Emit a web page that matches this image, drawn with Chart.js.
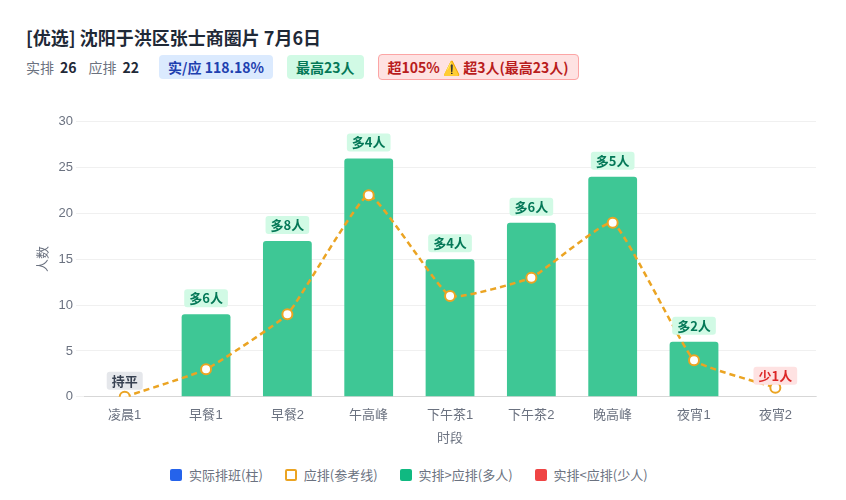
<!DOCTYPE html>
<html lang="zh-CN">
<head>
<meta charset="UTF-8" />
<title>沈阳于洪区张士商圈片</title>
<script src="https://cdn.jsdelivr.net/npm/chart.js"></script>
<style>
  body { margin: 0; width: 846px; height: 500px; background: #fff; font-family: "Noto Sans CJK SC", "Noto Sans", sans-serif; color: #1f2937; }
  .title { position: absolute; left: 26px; top: 24px; font-size: 18px; font-weight: bold; }
  .sub { position: absolute; left: 26px; top: 54px; font-size: 14px; display: flex; align-items: center; gap: 6px; color: #6b7280; }
  .sub b { color: #1f2937; margin-right: 6px; }
  .tag { padding: 2px 9px; border-radius: 4px; font-weight: bold; margin-left: 8px; }
  .blue { background: #dbeafe; color: #1e40af; }
  .green { background: #d1fae5; color: #047857; }
  .red { background: #fee2e2; color: #b91c1c; border: 1px solid #fca5a5; }
  .wrap { position: absolute; left: 14px; top: 111px; width: 816px; height: 339px; }
  .legend { position: absolute; top: 465px; left: 170px; display: flex; gap: 22px; font-size: 13px; color: #6b7280; }
  .legend span { display: flex; align-items: center; gap: 7px; }
  .sw { width: 12px; height: 12px; border-radius: 2px; display: inline-block; box-sizing: border-box; }
</style>
</head>
<body>
<div class="title">[优选] 沈阳于洪区张士商圈片 7月6日</div>
<div class="sub">实排 <b>26</b> 应排 <b>22</b>
  <span class="tag blue">实/应 118.18%</span>
  <span class="tag green">最高23人</span>
  <span class="tag red">超105% ⚠️ 超3人(最高23人)</span>
</div>
<div class="wrap"><canvas id="c"></canvas></div>
<div class="legend">
  <span><i class="sw" style="background:#2563eb"></i>实际排班(柱)</span>
  <span><i class="sw" style="border:2px solid #eba423;background:#fff"></i>应排(参考线)</span>
  <span><i class="sw" style="background:#10b981"></i>实排&gt;应排(多人)</span>
  <span><i class="sw" style="background:#ef4444"></i>实排&lt;应排(少人)</span>
</div>
<script>
const periods = ['凌晨1', '早餐1', '早餐2', '午高峰', '下午茶1', '下午茶2', '晚高峰', '夜宵1', '夜宵2'];
const actual = [0, 9, 17, 26, 15, 19, 24, 6, 0];
const expected = [0, 3, 9, 22, 11, 13, 19, 4, 1];
const diffLabels = ['持平', '多6人', '多8人', '多4人', '多4人', '多6人', '多5人', '多2人', '少1人'];

const badgePlugin = {
  id: 'badges',
  afterDatasetsDraw(chart) {
    const ctx = chart.ctx;
    const x = chart.scales.x, y = chart.scales.y;
    ctx.save();
    ctx.font = 'bold 13px "Noto Sans CJK SC"';
    ctx.textAlign = 'center';
    ctx.textBaseline = 'middle';
    diffLabels.forEach((t, i) => {
      const top = Math.max(actual[i], expected[i]);
      const cx = x.getPixelForValue(i);
      const cy = y.getPixelForValue(top) - (top === actual[i] ? 16 : 12);
      const w = ctx.measureText(t).width + 10;
      let bg = '#d1fae5', fg = '#047857';
      if (t.startsWith('少')) { bg = '#fee2e2'; fg = '#dc2626'; }
      if (t === '持平') { bg = '#e5e7eb'; fg = '#374151'; }
      ctx.fillStyle = bg;
      ctx.beginPath();
      ctx.roundRect(cx - w / 2, cy - 9, w, 18, 3);
      ctx.fill();
      ctx.fillStyle = fg;
      ctx.fillText(t, cx, cy);
    });
    ctx.restore();
  }
};

new Chart(document.getElementById('c'), {
  data: {
    labels: periods,
    datasets: [
      {
        type: 'line', label: '应排', data: expected,
        borderColor: '#eba423', borderWidth: 2.5, borderDash: [6, 4],
        pointBackgroundColor: '#fff', pointBorderColor: '#eba423', pointBorderWidth: 2, pointRadius: 5,
        tension: 0.12, order: 0
      },
      {
        type: 'bar', label: '实际排班', data: actual,
        backgroundColor: '#3ec795', borderRadius: { topLeft: 3, topRight: 3 },
        barPercentage: 0.6, categoryPercentage: 1, order: 1
      }
    ]
  },
  options: {
    responsive: true, maintainAspectRatio: false, animation: false,
    layout: { padding: { left: 18, right: 14 } },
    plugins: { legend: { display: false }, tooltip: { enabled: false } },
    scales: {
      x: {
        grid: { display: false },
        ticks: { color: '#6b7280', font: { size: 13 } },
        title: { display: true, text: '时段', color: '#6b7280', font: { size: 13 } }
      },
      y: {
        min: 0, max: 30,
        ticks: { stepSize: 5, color: '#6b7280', font: { size: 13 } },
        grid: { color: '#f0f0f0' }, border: { display: false },
        title: { display: true, text: '人数', color: '#6b7280', font: { size: 13 } }
      }
    }
  },
  plugins: [badgePlugin]
});
</script>
</body>
</html>
